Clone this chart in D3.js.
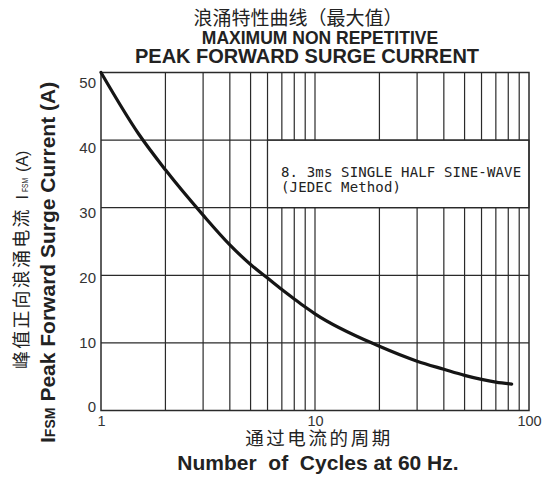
<!DOCTYPE html>
<html>
<head>
<meta charset="utf-8">
<script src="https://cdn.jsdelivr.net/npm/d3@7"></script>
<style>
  body { margin: 0; background: #fff; }
  svg { display: block; }
</style>
</head>
<body>
<svg id="chart" width="544" height="480"></svg>
<script>
// ---- data ----
const cycles = [1, 1.5, 2, 3, 4, 5, 6, 7, 8, 9, 10, 20, 30, 40, 50, 60, 70, 83];
const amps   = [50, 40.9, 35.6, 28.9, 24.5, 21.6, 19.6, 17.9, 16.5, 15.3, 14.3, 9.5, 7.3, 6.1, 5.2, 4.6, 4.2, 3.9];

const xGrid = [2, 3, 4, 5, 6, 7, 8, 9, 10, 20, 30, 40, 50, 60, 70, 80, 90];
const yGrid = [10, 20, 30, 40];
const xTickLabels = [1, 10, 100];
const yTickLabels = [0, 10, 20, 30, 40, 50];

const noteLines = ["8. 3ms SINGLE HALF SINE-WAVE", "(JEDEC Method)"];

// plot box
const box = { left: 101, right: 529, top: 72.5, bottom: 410.5 };

const x = d3.scaleLog().domain([1, 100]).range([box.left, box.right]);
const y = d3.scaleLinear().domain([0, 50]).range([box.bottom, box.top]);
// tick labels in the original sit a bit off the grid lines
const yLabel = d3.scaleLinear().domain([0, 50]).range([407, 83]);

const svg = d3.select("#chart");
const ink = "#2a2a2a";

// vertical grid
svg.append("g")
    .selectAll("line")
    .data(xGrid)
    .enter()
    .append("line")
    .attr("x1", d => x(d)).attr("x2", d => x(d))
    .attr("y1", y(50)).attr("y2", y(0))
    .attr("stroke", ink)
    .attr("stroke-width", 1.2);

// note box (blanks the grid between 30 and 40 from 6 cycles on)
svg.append("rect")
    .attr("x", x(6))
    .attr("y", y(40))
    .attr("width", x(100) - x(6))
    .attr("height", y(30) - y(40))
    .attr("fill", "#fff")
    .attr("stroke", ink)
    .attr("stroke-width", 1.2);

// horizontal grid
svg.append("g")
    .selectAll("line")
    .data(yGrid)
    .enter()
    .append("line")
    .attr("x1", x(1)).attr("x2", x(100))
    .attr("y1", d => y(d)).attr("y2", d => y(d))
    .attr("stroke", ink)
    .attr("stroke-width", 1.2);

// frame
svg.append("rect")
    .attr("x", box.left).attr("y", box.top)
    .attr("width", box.right - box.left)
    .attr("height", box.bottom - box.top)
    .attr("fill", "none")
    .attr("stroke", ink)
    .attr("stroke-width", 1.5);

// note text
svg.append("g")
    .selectAll("text")
    .data(noteLines)
    .enter()
    .append("text")
    .attr("x", 281)
    .attr("y", (d, i) => 177 + i * 14.5)
    .attr("font-family", "DejaVu Sans Mono, monospace")
    .attr("font-size", 14)
    .attr("letter-spacing", 0.15)
    .attr("fill", "#222")
    .text(d => d);

// curve
const line = d3.line()
    .x(d => x(d[0]))
    .y(d => y(d[1]))
    .curve(d3.curveMonotoneX);

svg.append("path")
    .datum(d3.zip(cycles, amps))
    .attr("d", line)
    .attr("fill", "none")
    .attr("stroke", "#151515")
    .attr("stroke-width", 3.2)
    .attr("stroke-linecap", "round");

// axes (labels only)
svg.append("g")
    .attr("transform", "translate(96,0)")
    .call(d3.axisLeft(yLabel).tickValues(yTickLabels).tickSize(0).tickPadding(0))
    .call(g => g.select(".domain").remove())
    .selectAll("text")
    .attr("font-family", "Liberation Sans, Arial, sans-serif")
    .attr("font-size", 15)
    .attr("fill", "#333");

svg.append("g")
    .attr("transform", "translate(0,416)")
    .call(d3.axisBottom(x).tickValues(xTickLabels).tickFormat(d3.format("d")).tickSize(0).tickPadding(0))
    .call(g => g.select(".domain").remove())
    .selectAll("text")
    .attr("font-family", "Liberation Sans, Arial, sans-serif")
    .attr("font-size", 14.5)
    .attr("fill", "#333");

// titles
svg.append("text")
    .attr("x", 298).attr("y", 25)
    .attr("text-anchor", "middle")
    .attr("font-family", "Noto Sans CJK SC")
    .attr("font-size", 19)
    .attr("fill", "#222")
    .text("浪涌特性曲线（最大值）");

svg.append("text")
    .attr("x", 320).attr("y", 44)
    .attr("text-anchor", "middle")
    .attr("font-family", "Liberation Sans, Arial, sans-serif")
    .attr("font-weight", "bold")
    .attr("font-size", 17.5)
    .attr("fill", "#222")
    .text("MAXIMUM NON REPETITIVE");

svg.append("text")
    .attr("x", 307).attr("y", 62.5)
    .attr("text-anchor", "middle")
    .attr("font-family", "Liberation Sans, Arial, sans-serif")
    .attr("font-weight", "bold")
    .attr("font-size", 20)
    .attr("fill", "#222")
    .text("PEAK FORWARD SURGE CURRENT");

// x titles
svg.append("text")
    .attr("x", 319).attr("y", 445)
    .attr("text-anchor", "middle")
    .attr("font-family", "Noto Sans CJK SC")
    .attr("font-size", 18.5)
    .attr("letter-spacing", 2.6)
    .attr("fill", "#222")
    .text("通过电流的周期");

svg.append("text")
    .attr("x", 318).attr("y", 470)
    .attr("text-anchor", "middle")
    .attr("font-family", "Liberation Sans, Arial, sans-serif")
    .attr("font-weight", "bold")
    .attr("font-size", 21)
    .attr("fill", "#222")
    .attr("xml:space", "preserve")
    .text("Number  of  Cycles at 60 Hz.");

// y titles
const yt1 = svg.append("text")
    .attr("transform", "translate(28,369) rotate(-90)")
    .attr("font-family", "Noto Sans CJK SC")
    .attr("font-size", 18)
    .attr("fill", "#222");
yt1.append("tspan").attr("letter-spacing", 2.2).text("峰值正向浪涌电流");
yt1.append("tspan").attr("dx", 8).attr("font-family", "Liberation Sans, Arial, sans-serif").attr("font-size", 16).text("I");
yt1.append("tspan").attr("dx", 3).attr("font-family", "Liberation Sans, Arial, sans-serif").attr("font-size", 9.5)
    .attr("textLength", 14).attr("lengthAdjust", "spacingAndGlyphs").text("FSM");
yt1.append("tspan").attr("dx", 6).attr("font-family", "Liberation Sans, Arial, sans-serif").attr("font-size", 16).text("(A)");

const yt2 = svg.append("text")
    .attr("transform", "translate(55,443) rotate(-90)")
    .attr("font-family", "Liberation Sans, Arial, sans-serif")
    .attr("font-weight", "bold")
    .attr("font-size", 21)
    .attr("fill", "#222");
yt2.append("tspan").text("I");
yt2.append("tspan").attr("font-size", 14).text("FSM");
yt2.append("tspan").attr("dx", 6).text("Peak Forward Surge Current (A)");
</script>
</body>
</html>
